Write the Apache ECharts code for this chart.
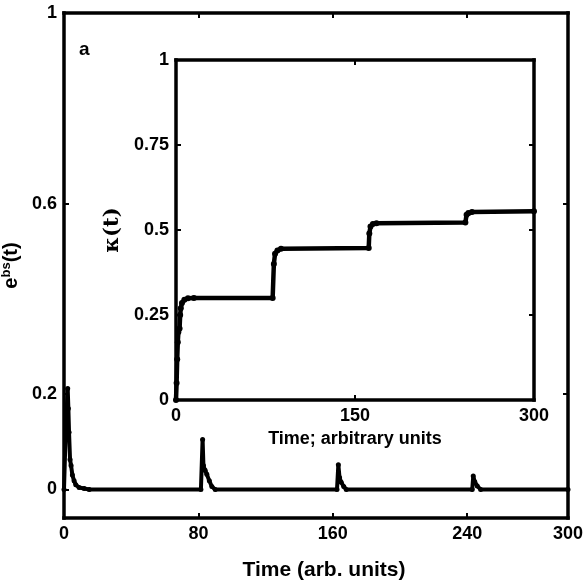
<!DOCTYPE html>
<html><head><meta charset="utf-8">
<script src="https://cdn.jsdelivr.net/npm/echarts@6/dist/echarts.min.js"></script>
<style>html,body{margin:0;padding:0;background:#fff}#c{width:584px;height:582px}</style>
</head><body><div id="c"></div>
<script>
// Main panel: e^bs(t) vs time
const mainT = [0, 1, 2.2, 2.6, 3, 3.6, 4.2, 5, 6, 7, 9, 12, 15,
  81.5, 82.5, 83, 84, 85, 86.5, 88, 90,
  162.5, 163.3, 164, 165, 166.5, 168,
  243, 243.6, 244.5, 246, 248, 300];
const mainE = [0, 0.12, 0.212, 0.17, 0.12, 0.063, 0.05, 0.03, 0.018, 0.01, 0.004, 0.002, 0,
  0, 0.105, 0.05, 0.04, 0.032, 0.018, 0.006, 0,
  0, 0.052, 0.025, 0.015, 0.006, 0,
  0, 0.028, 0.016, 0.007, 0, 0];
const mainXTicks = [0, 80, 160, 240, 300];
const mainYTicks = [0, 0.2, 0.6, 1];

// Inset: kappa(t) vs time
const insetT = [0, 0.5, 1, 1.5, 2, 3, 3.5, 4, 5, 7, 10, 15, 81, 82, 83, 85, 88, 161.5, 162, 163, 165, 168, 242.5, 243.5, 245, 248, 300];
const insetK = [0, 0.05, 0.12, 0.17, 0.2, 0.21, 0.25, 0.27, 0.285, 0.295, 0.299, 0.3, 0.3, 0.4, 0.43, 0.44, 0.445, 0.447, 0.49, 0.51, 0.518, 0.52, 0.522, 0.545, 0.55, 0.553, 0.555];
const insetXTicks = [0, 150, 300];
const insetYTicks = [0, 0.25, 0.5, 0.75, 1];

const FONT = "'Liberation Sans', Arial, sans-serif";
const lbl = {color: '#000', fontFamily: FONT, fontWeight: 'bold', fontSize: 18};

function axis(grid, pos, min, max, ticks, showLabels, extra) {
  return Object.assign({
    type: 'value', gridIndex: grid, position: pos, min: min, max: max,
    splitLine: {show: false},
    axisLine: {show: true, onZero: false, lineStyle: {color: '#000', width: 3.5, cap: 'square'}},
    axisTick: {show: true, inside: true, length: 5, customValues: ticks, lineStyle: {color: '#000', width: 2}},
    axisLabel: Object.assign({show: showLabels, customValues: ticks, margin: 7}, lbl)
  }, extra || {});
}

const chart = echarts.init(document.getElementById('c'), null, {renderer: 'canvas'});
chart.setOption({
  animation: false,
  backgroundColor: '#fff',
  grid: [
    {left: 64, right: 16, top: 13, bottom: 64, outerBoundsMode: 'none', containLabel: false, show: false},
    {left: 176, right: 50, top: 60, bottom: 182, outerBoundsMode: 'none', containLabel: false, show: false}
  ],
  xAxis: [
    axis(0, 'bottom', 0, 300, mainXTicks, true, {
      name: 'Time (arb. units)', nameLocation: 'middle', nameGap: 42,
      nameTextStyle: {color: '#000', fontFamily: FONT, fontWeight: 'bold', fontSize: 21, padding: [0, 0, 0, 16]}
    }),
    axis(0, 'top', 0, 300, [80, 160, 240], false),
    axis(1, 'bottom', 0, 300, insetXTicks, true, {
      name: 'Time; arbitrary units', nameLocation: 'middle', nameGap: 29,
      nameTextStyle: {color: '#000', fontFamily: FONT, fontWeight: 'bold', fontSize: 18}
    }),
    axis(1, 'top', 0, 300, [150], false)
  ],
  yAxis: [
    axis(0, 'left', -0.06, 1, mainYTicks, true, {
      name: '{b|e}{s|bs}{b|(t)}', nameLocation: 'middle', nameGap: 30, nameRotate: 90,
      nameTextStyle: {rich: {
        b: {color: '#000', fontFamily: FONT, fontWeight: 'bold', fontSize: 20},
        s: {color: '#000', fontFamily: FONT, fontWeight: 'bold', fontSize: 13, padding: [0, 0, 10, 0]}
      }}
    }),
    axis(0, 'right', -0.06, 1, [0.2, 0.6], false),
    axis(1, 'left', 0, 1, insetYTicks, true, {
      name: 'κ(t)', nameLocation: 'middle', nameGap: 43, nameRotate: 90,
      nameTextStyle: {color: '#000', fontFamily: "'DejaVu Serif', serif", fontWeight: 'bold', fontSize: 21}
    }),
    axis(1, 'right', 0, 1, [0.25, 0.5, 0.75], false)
  ],
  graphic: [
    {type: 'text', left: 79, top: 40, style: {text: 'a', fill: '#000', font: "bold 19px " + FONT}}
  ],
  series: [
    {
      type: 'line', xAxisIndex: 0, yAxisIndex: 0, z: 2,
      data: mainT.map((t, i) => [t, mainE[i]]),
      lineStyle: {color: '#000', width: 4},
      symbol: 'circle', symbolSize: 5, showSymbol: true, showAllSymbol: true,
      itemStyle: {color: '#000'}
    },
    {
      type: 'line', xAxisIndex: 2, yAxisIndex: 2, z: 6,
      data: insetT.map((t, i) => [t, insetK[i]]),
      lineStyle: {color: '#000', width: 4.5},
      symbol: 'circle', symbolSize: 6, showSymbol: true, showAllSymbol: true,
      itemStyle: {color: '#000'}
    }
  ]
});
</script></body></html>
